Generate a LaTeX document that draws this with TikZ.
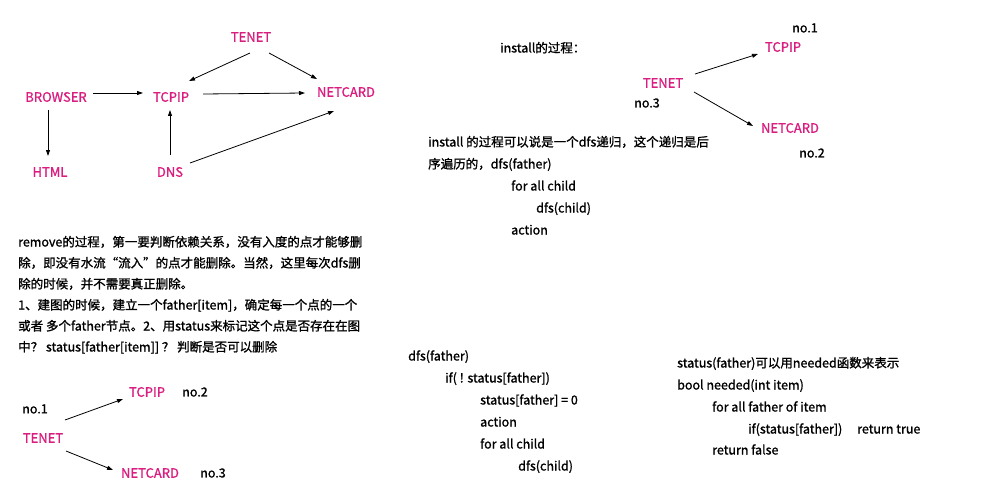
\documentclass[tikz,border=0pt]{standalone}
\usepackage{fontspec}
\setmainfont{Noto Sans CJK SC}[FakeBold=1.2]
\usetikzlibrary{arrows.meta,calc}
\definecolor{mag}{RGB}{218,30,128}
\begin{document}
\begin{tikzpicture}[x=1pt,y=-1pt,
  lbl/.style={text=mag,font=\fontsize{13}{15}\selectfont,inner sep=0pt},
  num/.style={text=black,font=\fontsize{12.5}{15}\selectfont,inner sep=0pt},
  body/.style={anchor=base west,inner sep=0pt,font=\fontsize{12.5}{15}\selectfont},
  arr/.style={-{Triangle[length=6pt,width=4pt]},line width=0.8pt}]
\useasboundingbox (0,0) rectangle (1000,500);
% graph 1
\node[lbl] (tenetA) at (251,37) {TENET};
\node[lbl] (browser) at (56,97) {BROWSER};
\node[lbl] (tcpipA) at (171,97) {TCPIP};
\node[lbl] (netcardA) at (346,92) {NETCARD};
\node[lbl] (html) at (50,172) {HTML};
\node[lbl] (dns) at (170,172) {DNS};
\draw[arr] ($(tenetA)+(-1,16)$) -- ($(tcpipA)+(18,-16)$);
\draw[arr] ($(tenetA)+(18,16)$) -- ($(netcardA)+(-29,-13)$);
\draw[arr] ($(browser)+(37,-4)$) -- ($(tcpipA)+(-28,-4)$);
\draw[arr] ($(tcpipA)+(32,-3)$) -- ($(netcardA)+(-41,1)$);
\draw[arr] ($(browser)+(-8,13)$) -- ($(html)+(-2,-16)$);
\draw[arr] ($(dns)+(0,-17)$) -- ($(tcpipA)+(-1,13)$);
\draw[arr] ($(dns)+(20,-9)$) -- ($(netcardA)+(-12,19)$);
% graph 2
\node[body] (inst) at (500,52.5) {install的过程：};
\node[num] (noB1) at (805,28) {no.1};
\node[lbl] (tcpipB) at (783,47) {TCPIP};
\node[lbl] (tenetB) at (663,83) {TENET};
\node[num] (noB3) at (647,103) {no.3};
\node[lbl] (netcardB) at (790,128) {NETCARD};
\node[num] (noB2) at (812,153) {no.2};
\draw[arr] ($(tenetB)+(32,-9)$) -- ($(tcpipB)+(-25,7)$);
\draw[arr] ($(tenetB)+(31,9)$) -- ($(netcardB)+(-37,-2)$);
% install text
\node[body] (i1) at (428,146.5) {install 的过程可以说是一个dfs递归，这个递归是后};
\node[body] (i2) at (428,168.5) {序遍历的，dfs(father)};
\node[body] (i3) at (511,190.5) {for all child};
\node[body] (i4) at (536,212.5) {dfs(child)};
\node[body] (i5) at (511,234.5) {action};
% remove text
\node[body] (r1) at (18,246.5) {remove的过程，第一要判断依赖关系，没有入度的点才能够删};
\node[body] (r2) at (18,267.5) {除，即没有水流“流入”的点才能删除。当然，这里每次dfs删};
\node[body] (r3) at (18,288.5) {除的时候，并不需要真正删除。};
\node[body] (r4) at (18,309.5) {1、建图的时候，建立一个father[item]，确定每一个点的一个};
\node[body] (r5) at (18,330.5) {或者 多个father节点。2、用status来标记这个点是否存在在图};
\node[body] (r6) at (18,351.5) {中？ status[father[item]] ？ 判断是否可以删除};
% graph 3
\node[lbl] (tcpipC) at (147,392) {TCPIP};
\node[num] (noC2) at (195,392) {no.2};
\node[num] (noC1) at (35,409) {no.1};
\node[lbl] (tenetC) at (43,438) {TENET};
\node[lbl] (netcardC) at (150,473) {NETCARD};
\node[num] (noC3) at (213,473) {no.3};
\draw[arr] ($(tenetC)+(22,-18)$) -- ($(tcpipC)+(-24,7)$);
\draw[arr] ($(tenetC)+(23,13)$) -- ($(netcardC)+(-37,-3)$);
% dfs block
\node[body] (d1) at (408,360.5) {dfs(father)};
\node[body] (d2) at (445,382.5) {if( ! status[father])};
\node[body] (d3) at (480,404.5) {status[father] = 0};
\node[body] (d4) at (480,426.5) {action};
\node[body] (d5) at (480,448.5) {for all child};
\node[body] (d6) at (518,470.5) {dfs(child)};
% status block
\node[body] (s1) at (677,367.5) {status(father)可以用needed函数来表示};
\node[body] (s2) at (677,389.5) {bool needed(int item)};
\node[body] (s3) at (712,411.5) {for all father of item};
\node[body] (s4) at (748,433.5) {if(status[father])};
\node[body] (s5) at (857,433.5) {return true};
\node[body] (s6) at (712,454.5) {return false};
\end{tikzpicture}
\end{document}
